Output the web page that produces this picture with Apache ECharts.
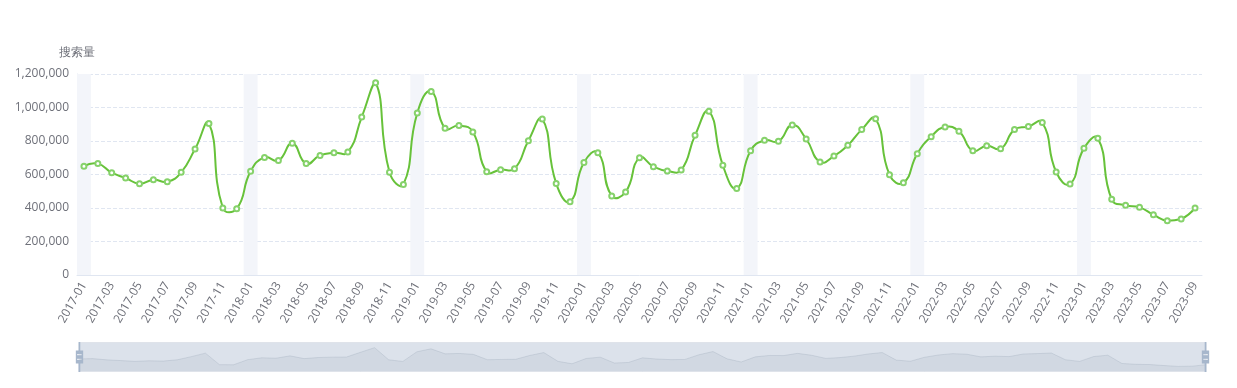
<!DOCTYPE html>
<html>
<head>
<meta charset="utf-8">
<script src="https://cdn.jsdelivr.net/npm/echarts@6/dist/echarts.min.js"></script>
<style>html,body{margin:0;padding:0;background:#fff;}#main{width:1237px;height:388px;}</style>
</head>
<body>
<div id="main"></div>
<script>
var months = [];
for (var y = 2017; y <= 2023; y++) {
  for (var m = 1; m <= 12; m++) {
    if (y === 2023 && m > 9) break;
    months.push(y + '-' + (m < 10 ? '0' + m : m));
  }
}
var searchVolume = [
  650000, 665000, 611000, 579000, 545000, 569000, 557000, 613000, 752000, 905000, 400000, 396000,
  619000, 702000, 683000, 786000, 665000, 714000, 730000, 734000, 943000, 1148000, 613000, 541000,
  967000, 1096000, 876000, 892000, 854000, 617000, 629000, 635000, 802000, 931000, 547000, 438000,
  671000, 730000, 472000, 496000, 700000, 647000, 621000, 627000, 834000, 977000, 655000, 517000,
  742000, 804000, 798000, 896000, 812000, 675000, 710000, 774000, 868000, 933000, 599000, 551000,
  724000, 826000, 884000, 858000, 742000, 772000, 754000, 868000, 886000, 911000, 615000, 543000,
  756000, 816000, 452000, 416000, 404000, 360000, 324000, 334000, 400000
];
var januaries = ['2017-01', '2018-01', '2019-01', '2020-01', '2021-01', '2022-01', '2023-01'];
var yMax = 1200000;
var bandData = months.map(function (mo) { return januaries.indexOf(mo) >= 0 ? yMax : null; });
var curveData = months.map(function (mo, i) { return [mo, searchVolume[i]]; });

var SMOOTH = 0.5;
function renderCurve(params, api) {
  var i = params.dataIndex;
  var n = searchVolume.length;
  if (i >= n - 1) return null;
  var pts = [];
  var minX = Infinity, minY = Infinity, maxX = -Infinity, maxY = -Infinity;
  for (var k = 0; k < n; k++) {
    var p = api.coord([months[k], searchVolume[k]]);
    pts.push(p);
    minX = Math.min(minX, p[0]); maxX = Math.max(maxX, p[0]);
    minY = Math.min(minY, p[1]); maxY = Math.max(maxY, p[1]);
  }
  function dist(a, b) { return Math.sqrt((a[0] - b[0]) * (a[0] - b[0]) + (a[1] - b[1]) * (a[1] - b[1])); }
  function clamp(c) { return [Math.min(Math.max(c[0], minX), maxX), Math.min(Math.max(c[1], minY), maxY)]; }
  // control point after point j
  function cpAfter(j) {
    if (j === 0) return pts[0];
    var p = pts[j], prev = pts[j - 1], next = pts[j + 1];
    var v = [next[0] - prev[0], next[1] - prev[1]];
    var d0 = dist(p, prev), d1 = dist(p, next);
    var r = d1 / (d0 + d1);
    return clamp([p[0] + v[0] * SMOOTH * r, p[1] + v[1] * SMOOTH * r]);
  }
  function cpBefore(j) {
    if (j === n - 1) return pts[n - 1];
    var p = pts[j], prev = pts[j - 1], next = pts[j + 1];
    var v = [next[0] - prev[0], next[1] - prev[1]];
    var d0 = dist(p, prev), d1 = dist(p, next);
    var r = d0 / (d0 + d1);
    return clamp([p[0] - v[0] * SMOOTH * r, p[1] - v[1] * SMOOTH * r]);
  }
  var a = cpAfter(i), b = cpBefore(i + 1);
  return {
    type: 'bezierCurve',
    shape: {
      x1: pts[i][0], y1: pts[i][1],
      x2: pts[i + 1][0], y2: pts[i + 1][1],
      cpx1: a[0], cpy1: a[1],
      cpx2: b[0], cpy2: b[1]
    },
    style: { stroke: '#67c23a', lineWidth: 2, fill: null, lineCap: 'round' },
    silent: true
  };
}

var chart = echarts.init(document.getElementById('main'));
chart.setOption({
  animation: false,
  grid: { left: 77, right: 35, top: 74, bottom: 113 },
  xAxis: {
    type: 'category',
    data: months,
    boundaryGap: true,
    axisLine: { lineStyle: { color: '#e0e6f1' } },
    axisTick: { interval: 1, lineStyle: { color: '#e0e6f1' } },
    axisLabel: { interval: 1, rotate: 60, color: '#6e7079', fontSize: 12, fontFamily: 'Open Sans' }
  },
  yAxis: {
    type: 'value',
    name: '搜索量',
    min: 0,
    max: yMax,
    interval: 200000,
    nameTextStyle: { color: '#6e7079', fontSize: 12 },
    nameGap: 15,
    axisLine: { show: true, lineStyle: { color: '#e0e6f1' } },
    axisLabel: { color: '#6e7079', fontSize: 12, fontFamily: 'Open Sans' },
    splitLine: { lineStyle: { type: 'dashed', color: '#e0e6f1' } }
  },
  dataZoom: [{
    type: 'slider',
    start: 0,
    end: 100,
    height: 30,
    bottom: 16,
    left: 76,
    right: 33,
    brushSelect: false,
    moveHandleSize: 0,
    showDetail: false,
    filterMode: 'none',
    backgroundColor: 'rgba(47,69,84,0)',
    borderColor: '#dfe3ea',
    fillerColor: 'rgba(167,183,204,0.4)',
    dataBackground: {
      lineStyle: { color: '#2f4554', opacity: 0.15, width: 1 },
      areaStyle: { color: 'rgba(47,69,84,0.3)', opacity: 0.3 }
    },
    selectedDataBackground: {
      lineStyle: { color: '#2f4554', opacity: 0.15, width: 1 },
      areaStyle: { color: 'rgba(47,69,84,0.3)', opacity: 0.3 }
    },
    handleIcon: 'M8.2,13.6V3.9H6.3v9.7H3.1v14.9h3.3v9.7h1.8v-9.7h3.3V13.6H8.2z M9.7,24.4H4.8v-1.4h4.9V24.4z M9.7,19.1H4.8v-1.4h4.9V19.1z',
    handleSize: '100%',
    handleStyle: { color: '#a7b7cc', borderColor: '#a7b7cc', borderWidth: 0 }
  }],
  series: [{
    type: 'line',
    data: searchVolume,
    symbol: 'emptyCircle',
    symbolSize: 5,
    z: 4,
    itemStyle: { color: '#86d26b', borderWidth: 1.2 },
    lineStyle: { width: 0, opacity: 0 }
  }, {
    type: 'custom',
    data: curveData,
    renderItem: renderCurve,
    encode: { x: 0, y: 1 },
    clip: true,
    z: 3
  }, {
    type: 'bar',
    data: bandData,
    barWidth: '100%',
    silent: true,
    z: 0,
    itemStyle: { color: '#f3f5fa' }
  }]
});
</script>
</body>
</html>
